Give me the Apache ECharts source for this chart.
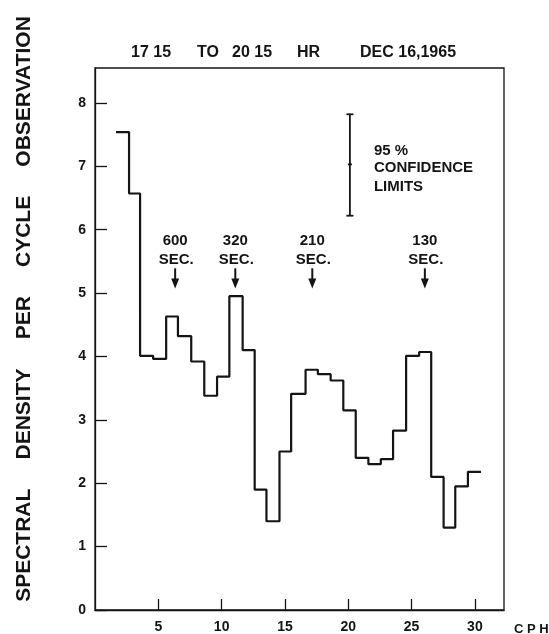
<!DOCTYPE html>
<html>
<head>
<meta charset="utf-8">
<script src="https://cdn.jsdelivr.net/npm/echarts@6/dist/echarts.min.js"></script>
<style>
html,body{margin:0;padding:0;background:#fff;}
#c{width:549px;height:634px;}
</style>
</head>
<body>
<div id="c"></div>
<script>
// Bin edges (cycles per hour) and spectral density values per bin
const binEdges = [1.66, 2.69, 3.56, 4.59, 5.62, 6.55, 7.60, 8.63, 9.64, 10.61, 11.66, 12.61, 13.54, 14.57, 15.49, 16.63, 17.60, 18.61, 19.61, 20.59, 21.59, 22.57, 23.54, 24.57, 25.60, 26.55, 27.53, 28.45, 29.45, 30.48];
const densityValues = [7.54, 6.57, 4.01, 3.96, 4.63, 4.32, 3.92, 3.38, 3.68, 4.95, 4.10, 1.90, 1.40, 2.50, 3.41, 3.79, 3.72, 3.62, 3.15, 2.40, 2.30, 2.38, 2.83, 4.01, 4.07, 2.10, 1.30, 1.95, 2.18];
const xTicks = [5, 10, 15, 20, 25, 30];
const yTicks = [0, 1, 2, 3, 4, 5, 6, 7, 8];
// Period annotations (x in CPH)
const periodX = [6.33, 11.08, 17.16, 26.05];
const periodLabels = ['600', '320', '210', '130'];
// 95% confidence limits bar
const ciX = 20.13;
const ciLow = 6.22, ciMid = 7.03, ciHigh = 7.82;

const INK = '#141414';
const FONT = '"Liberation Sans", Arial, sans-serif';

const stepData = binEdges.map((x, i) => [x, i < densityValues.length ? densityValues[i] : densityValues[densityValues.length - 1]]);

const chart = echarts.init(document.getElementById('c'), null, {renderer: 'canvas'});
chart.setOption({
  animation: false,
  backgroundColor: '#fff',
  grid: {left: 95, right: 45, top: 68, bottom: 19, show: true, borderColor: INK, borderWidth: 1.3, backgroundColor: 'transparent'},
  xAxis: {
    type: 'value', min: 0, max: 32.3, interval: 5,
    axisLine: {show: true, lineStyle: {color: INK, width: 1.3}},
    axisTick: {show: true, inside: true, length: 11, lineStyle: {color: INK, width: 1.3},
      customValues: xTicks},
    axisLabel: {show: true, margin: 10, color: INK, fontSize: 14, fontWeight: 'bold', fontFamily: FONT,
      customValues: xTicks, formatter: v => String(v)},
    splitLine: {show: false}
  },
  yAxis: {
    type: 'value', min: 0, max: 8.55, interval: 1,
    axisLine: {show: true, lineStyle: {color: INK, width: 1.3}},
    axisTick: {show: true, inside: true, length: 12, lineStyle: {color: INK, width: 1.3},
      customValues: yTicks},
    axisLabel: {show: true, margin: 9, color: INK, fontSize: 14, fontWeight: 'bold', fontFamily: FONT,
      customValues: yTicks, formatter: v => String(v)},
    splitLine: {show: false}
  },
  series: [
    {
      type: 'line', step: 'end', data: stepData, symbol: 'none',
      lineStyle: {color: INK, width: 2.2}, z: 3
    },
    {
      type: 'custom', coordinateSystem: 'cartesian2d',
      data: periodX.map((x, i) => [x, i]),
      renderItem: function (params, api) {
        const x = api.value(0);
        const lbl = periodLabels[api.value(1)];
        const pNum = api.coord([x, 5.82]);
        const pSec = api.coord([x, 5.53]);
        const pTop = api.coord([x, 5.39]);
        const pTip = api.coord([x, 5.07]);
        const ts = {fill: INK, font: 'bold 15px ' + FONT, align: 'center', verticalAlign: 'middle'};
        return {
          type: 'group',
          children: [
            {type: 'text', x: pNum[0], y: pNum[1], style: Object.assign({text: lbl}, ts)},
            {type: 'text', x: pSec[0] + 1, y: pSec[1], style: Object.assign({text: 'SEC.'}, ts)},
            {type: 'line', shape: {x1: pTop[0], y1: pTop[1], x2: pTip[0], y2: pTip[1] - 8}, style: {stroke: INK, lineWidth: 2}},
            {type: 'polygon', shape: {points: [[pTip[0] - 4, pTip[1] - 10], [pTip[0] + 4, pTip[1] - 10], [pTip[0], pTip[1]]]}, style: {fill: INK}}
          ]
        };
      }, z: 4
    },
    {
      type: 'custom', coordinateSystem: 'cartesian2d',
      data: [[ciX, ciLow, ciMid, ciHigh]],
      renderItem: function (params, api) {
        const lo = api.coord([api.value(0), api.value(1)]);
        const mid = api.coord([api.value(0), api.value(2)]);
        const hi = api.coord([api.value(0), api.value(3)]);
        const st = {stroke: INK, lineWidth: 1.8};
        const ts = {fill: INK, font: 'bold 15px ' + FONT, align: 'left', verticalAlign: 'middle'};
        const tx = hi[0] + 24;
        return {
          type: 'group',
          children: [
            {type: 'line', shape: {x1: hi[0], y1: hi[1], x2: lo[0], y2: lo[1]}, style: st},
            {type: 'line', shape: {x1: hi[0] - 3.5, y1: hi[1], x2: hi[0] + 3.5, y2: hi[1]}, style: st},
            {type: 'line', shape: {x1: lo[0] - 3.5, y1: lo[1], x2: lo[0] + 3.5, y2: lo[1]}, style: st},
            {type: 'line', shape: {x1: mid[0] - 2, y1: mid[1], x2: mid[0] + 2, y2: mid[1]}, style: st},
            {type: 'text', x: tx, y: mid[1] - 13, style: Object.assign({text: '95 %'}, ts)},
            {type: 'text', x: tx, y: mid[1] + 4, style: Object.assign({text: 'CONFIDENCE'}, ts)},
            {type: 'text', x: tx, y: mid[1] + 23, style: Object.assign({text: 'LIMITS'}, ts)}
          ]
        };
      }, z: 4
    }
  ],
  graphic: [
    {type: 'text', left: 131, top: 45, style: {text: '17 15', fill: INK, font: 'bold 16px ' + FONT}},
    {type: 'text', left: 197, top: 45, style: {text: 'TO', fill: INK, font: 'bold 16px ' + FONT}},
    {type: 'text', left: 232, top: 45, style: {text: '20 15', fill: INK, font: 'bold 16px ' + FONT}},
    {type: 'text', left: 297, top: 45, style: {text: 'HR', fill: INK, font: 'bold 16px ' + FONT}},
    {type: 'text', left: 360, top: 45, style: {text: 'DEC 16,1965', fill: INK, font: 'bold 16px ' + FONT}},
    {type: 'text', left: 514, top: 623, style: {text: 'C P H', fill: INK, font: 'bold 13px ' + FONT}},
    {type: 'text', x: 24, y: 309, rotation: Math.PI / 2,
      style: {text: 'SPECTRAL     DENSITY     PER     CYCLE     OBSERVATION', fill: INK,
        font: 'bold 21px ' + FONT, align: 'center', verticalAlign: 'middle'}}
  ]
});
</script>
</body>
</html>
